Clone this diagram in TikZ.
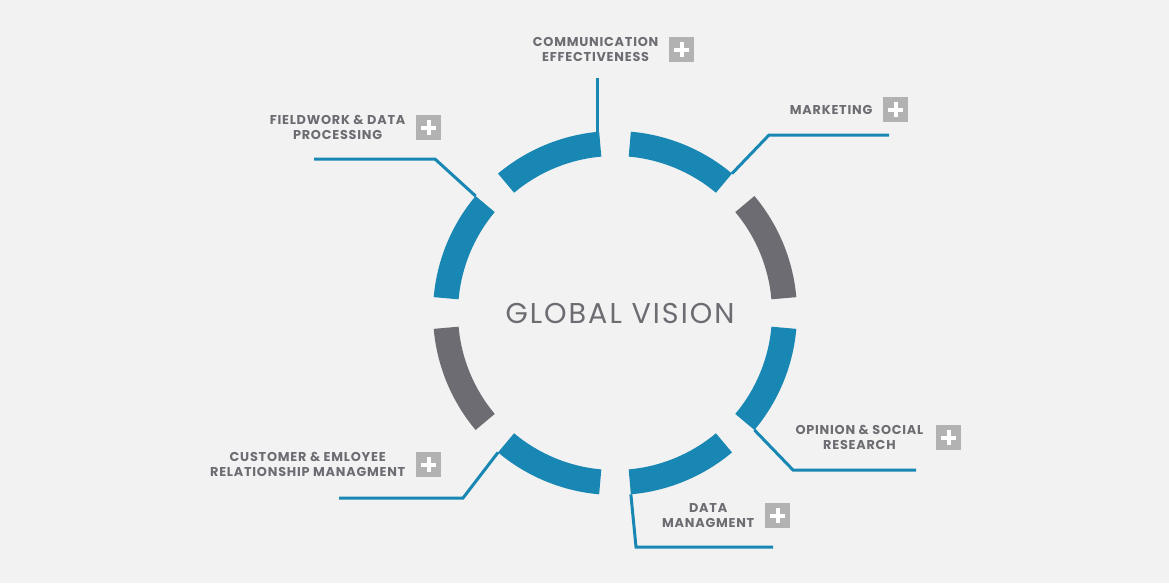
\documentclass[tikz,border=0pt]{standalone}
\usepackage{fontspec}
\setmainfont{Poppins}
\newfontfamily\tagfont[LetterSpace=6]{Poppins}
\newfontfamily\titlefont[LetterSpace=7]{Poppins}
\usetikzlibrary{positioning}
\definecolor{bgcol}{HTML}{F2F2F2}
\definecolor{vblue}{HTML}{1887B3}
\definecolor{vgray}{HTML}{6C6C72}
\definecolor{plusgray}{HTML}{B2B2B2}
\begin{document}
\begin{tikzpicture}[x=0.02cm, y=0.02cm,
  bluearc/.style={fill=vblue},
  grayarc/.style={fill=vgray},
  link/.style={draw=vblue, line width=0.06cm},
  plusbox/.style={fill=plusgray, minimum size=0.5cm, inner sep=0pt,
    path picture={\draw[white, line width=0.08cm]
      ([xshift=-0.15cm]path picture bounding box.center) -- ([xshift=0.15cm]path picture bounding box.center)
      ([yshift=-0.15cm]path picture bounding box.center) -- ([yshift=0.15cm]path picture bounding box.center);}},
  tag/.style={align=center, inner sep=0pt, font=\tagfont\bfseries\fontsize{7.3}{8.5}\selectfont, text=vgray}
]
\fill[bgcol] (0,0) rectangle (1169,583);
\coordinate (c) at (615,270);
\path (c) ++(50:182) coordinate (a50);
\path (c) ++(95:182) coordinate (a95);
\path (c) ++(140:182) coordinate (a140);
\path (c) ++(230:182) coordinate (a230);
\path (c) ++(275:182) coordinate (a275);
\path (c) ++(320:182) coordinate (a320);

\node[font=\titlefont\fontsize{16.3}{18}\selectfont, text=vgray] (title) at (620,270) {GLOBAL VISION};

\node[plusbox] (p-comm) at (681.5,533.5) {};
\node[tag, left=0.2cm of p-comm] (comm) {COMMUNICATION\\EFFECTIVENESS};
\node[plusbox] (p-mark) at (895.5,473.5) {};
\node[tag, left=0.2cm of p-mark] (mark) {MARKETING};
\node[plusbox] (p-field) at (428.5,455.5) {};
\node[tag, left=0.2cm of p-field] (field) {FIELDWORK \& DATA\\PROCESSING};
\node[plusbox] (p-opin) at (948.5,145.5) {};
\node[tag, left=0.24cm of p-opin] (opin) {OPINION \& SOCIAL\\RESEARCH};
\node[plusbox] (p-data) at (777.5,67.5) {};
\node[tag, left=0.2cm of p-data] (data) {DATA\\MANAGMENT};
\node[plusbox] (p-cust) at (428.5,118.5) {};
\node[tag, left=0.2cm of p-cust] (cust) {CUSTOMER \& EMLOYEE\\RELATIONSHIP MANAGMENT};

\coordinate (k-comm) at (597,505);
\coordinate (k-mark) at (889,448);
\coordinate (k-field) at (314,424);
\coordinate (k-opin) at (916,113);
\coordinate (k-data) at (773,36);
\coordinate (k-cust) at (339,85);

\draw[link] (k-comm) -- (k-comm |- a95);
\draw[link] (a50) -- (769,448) -- (k-mark);
\draw[link] (a140) -- (435,424) -- (k-field);
\draw[link] (a320) -- (793,113) -- (k-opin);
\draw[link] (a275) -- (636,36) -- (k-data);
\draw[link] (a230) -- (463,85) -- (k-cust);

\fill[grayarc] (c) ++(5:182) arc[start angle=5, end angle=40, radius=182] -- ++(220:25) arc[start angle=40, end angle=5, radius=157] -- cycle;
\fill[bluearc] (c) ++(50:182) arc[start angle=50, end angle=85, radius=182] -- ++(265:25) arc[start angle=85, end angle=50, radius=157] -- cycle;
\fill[bluearc] (c) ++(95:182) arc[start angle=95, end angle=130, radius=182] -- ++(310:25) arc[start angle=130, end angle=95, radius=157] -- cycle;
\fill[bluearc] (c) ++(140:182) arc[start angle=140, end angle=175, radius=182] -- ++(355:25) arc[start angle=175, end angle=140, radius=157] -- cycle;
\fill[grayarc] (c) ++(185:182) arc[start angle=185, end angle=220, radius=182] -- ++(40:25) arc[start angle=220, end angle=185, radius=157] -- cycle;
\fill[bluearc] (c) ++(230:182) arc[start angle=230, end angle=265, radius=182] -- ++(85:25) arc[start angle=265, end angle=230, radius=157] -- cycle;
\fill[bluearc] (c) ++(275:182) arc[start angle=275, end angle=310, radius=182] -- ++(130:25) arc[start angle=310, end angle=275, radius=157] -- cycle;
\fill[bluearc] (c) ++(320:182) arc[start angle=320, end angle=355, radius=182] -- ++(175:25) arc[start angle=355, end angle=320, radius=157] -- cycle;
\end{tikzpicture}
\end{document}
